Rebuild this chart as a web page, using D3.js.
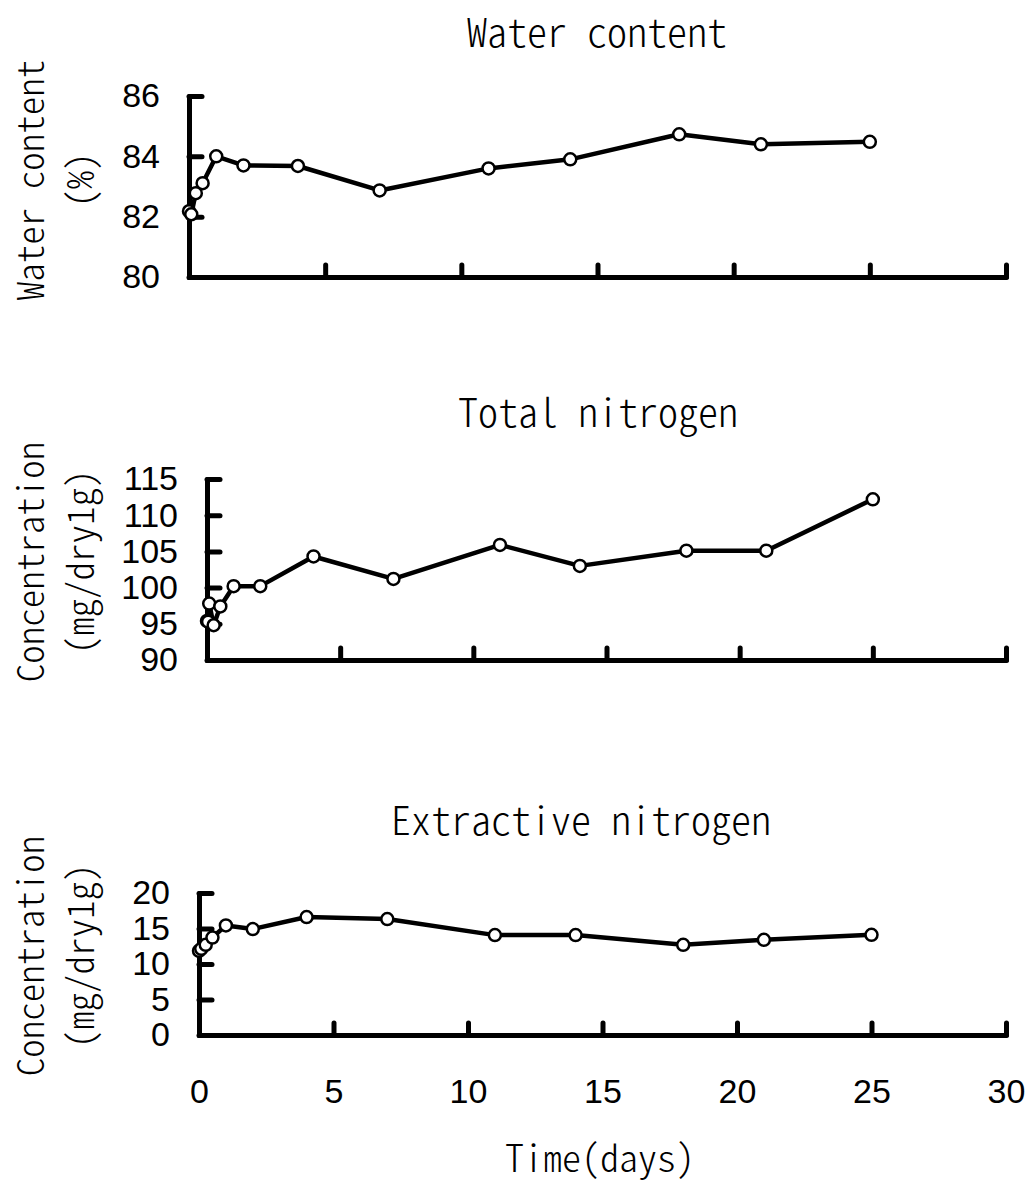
<!DOCTYPE html>
<html>
<head>
<meta charset="utf-8">
<script src="https://cdn.jsdelivr.net/npm/d3@7"></script>
<style>
  body { margin: 0; background: #fff; }
  .mono { font-family: "Noto Sans CJK JP", "DejaVu Sans Mono", monospace; font-feature-settings: "hwid" 1; font-weight: 300; }
  .tick text { font-family: "Liberation Sans", Arial, sans-serif; }
</style>
</head>
<body>
<div id="chart"></div>
<script>
// sampling times (days)
const days = [0, 0.083, 0.25, 0.5, 1, 2, 4, 7, 11, 14, 18, 21, 25];
const daysTN = [0, 0.042, 0.083, 0.25, 0.5, 1, 2, 4, 7, 11, 14, 18, 21, 25];

// series values
const waterContent = [82.18, 82.08, 82.78, 83.11, 84.0, 83.7, 83.68, 82.87, 83.6, 83.9, 84.73, 84.4, 84.48];
const totalNitrogen = [95.4, 95.3, 97.8, 94.8, 97.4, 100.2, 100.2, 104.3, 101.2, 105.9, 103.0, 105.1, 105.1, 112.2];
const extractiveNitrogen = [11.86, 12.14, 12.7, 13.73, 15.43, 14.92, 16.61, 16.33, 14.07, 14.07, 12.7, 13.41, 14.11];

// axis ticks
const xTicks = [0, 5, 10, 15, 20, 25, 30];
const wcTicks = [80, 82, 84, 86];
const tnTicks = [90, 95, 100, 105, 110, 115];
const enTicks = [0, 5, 10, 15, 20];

const titles = ["Water content", "Total nitrogen", "Extractive nitrogen"];
const yLabels = [["Water content", "(%)"], ["Concentration", "(mg/dry1g)"], ["Concentration", "(mg/dry1g)"]];

const width = 1029, height = 1185;

const svg = d3.select("#chart").append("svg")
    .attr("width", width)
    .attr("height", height);

// panel layout (pixels)
let panels = [
    {x: days, y: waterContent, ticks: wcTicks, left: 189, top: 96, bottom: 277, titleX: 597, titleY: 30, labY: 180},
    {x: daysTN, y: totalNitrogen, ticks: tnTicks, left: 207, top: 479, bottom: 660, titleX: 598, titleY: 410, labY: 562},
    {x: days, y: extractiveNitrogen, ticks: enTicks, left: 199, top: 893, bottom: 1035, titleX: 581, titleY: 818, labY: 956}
];
const right = 1006;

panels.forEach((p, i) => {
    let g = svg.append("g");

    let x = d3.scaleLinear().domain([0, 30]).range([p.left, right]);
    let y = d3.scaleLinear().domain(d3.extent(p.ticks)).range([p.bottom, p.top]);

    // title
    g.append("text")
        .attr("class", "mono")
        .attr("x", p.titleX)
        .attr("y", p.titleY)
        .attr("text-anchor", "middle")
        .attr("dominant-baseline", "central")
        .style("font-size", "40px")
        .text(titles[i]);

    // y label (two lines)
    yLabels[i].forEach((t, k) => {
        g.append("text")
            .attr("class", "mono")
            .attr("transform", `translate(${28 + k * 50},${p.labY}) rotate(-90)`)
            .attr("text-anchor", "middle")
            .attr("dominant-baseline", "central")
            .style("font-size", "37px")
            .text(t);
    });

    let xAxis = d3.axisBottom(x)
        .tickValues(xTicks)
        .tickSizeInner(-12)
        .tickSizeOuter(0)
        .tickPadding(44);

    let yAxis = d3.axisLeft(y)
        .tickValues(p.ticks)
        .tickFormat(d3.format("d"))
        .tickSizeInner(-13)
        .tickSizeOuter(0)
        .tickPadding(29);

    let gx = g.append("g")
        .attr("transform", `translate(0,${p.bottom})`)
        .call(xAxis);
    if (i < 2) gx.selectAll(".tick text").remove();

    let gy = g.append("g")
        .attr("transform", `translate(${p.left},0)`)
        .call(yAxis);

    [gx, gy].forEach(a => {
        a.select(".domain").attr("stroke", "#000").attr("stroke-width", 5).attr("stroke-linecap", "round");
        a.selectAll(".tick line").attr("stroke", "#000").attr("stroke-width", 5).attr("stroke-linecap", "round");
        a.selectAll(".tick text").attr("fill", "#000").style("font-size", "34px");
    });

    let pts = p.x.map((d, j) => [d, p.y[j]]);

    g.append("path")
        .datum(pts)
        .attr("fill", "none")
        .attr("stroke", "#000")
        .attr("stroke-width", 4.5)
        .attr("stroke-linejoin", "round")
        .attr("d", d3.line().x(d => x(d[0])).y(d => y(d[1])));

    g.selectAll(".pt")
        .data(pts)
        .enter()
        .append("circle")
        .attr("class", "pt")
        .attr("cx", d => x(d[0]))
        .attr("cy", d => y(d[1]))
        .attr("r", 6)
        .attr("fill", "#fff")
        .attr("stroke", "#000")
        .attr("stroke-width", 2.5);
});

// x axis title
svg.append("text")
    .attr("class", "mono")
    .attr("x", 600)
    .attr("y", 1155)
    .attr("text-anchor", "middle")
    .attr("dominant-baseline", "central")
    .style("font-size", "38px")
    .text("Time(days)");
</script>
</body>
</html>
